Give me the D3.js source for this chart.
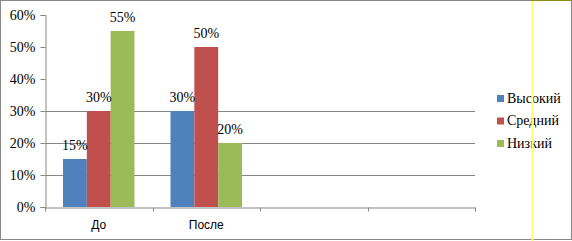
<!DOCTYPE html>
<html>
<head>
<meta charset="utf-8">
<script src="https://cdn.jsdelivr.net/npm/d3@7"></script>
<style>
  body { margin: 0; background: #fff; }
  svg { display: block; }
</style>
</head>
<body>
<div id="chart"></div>
<script>
// data
var categories = ["До", "После", "", ""];
var seriesNames = ["Высокий", "Средний", "Низкий"];
var seriesColors = ["#4f81bd", "#c0504d", "#9bbb59"];
var valuesHigh = [0.15, 0.30];
var valuesMid = [0.30, 0.50];
var valuesLow = [0.55, 0.20];
var yTicks = [0, 0.1, 0.2, 0.3, 0.4, 0.5, 0.6];
var gridTicks = [0.1, 0.2, 0.3];

var w = 572, h = 241;
var plotLeft = 45, plotRight = 475, plotTop = 15, plotBottom = 207;

var svg = d3.select("#chart").append("svg")
  .attr("width", w).attr("height", h);

// outer frame
svg.append("rect")
  .attr("x", 0.5).attr("y", 0.5)
  .attr("width", 571).attr("height", 239)
  .attr("fill", "#fff").attr("stroke", "#888").attr("stroke-width", 1);

var y = d3.scaleLinear().domain([0, 0.6]).range([plotBottom, plotTop]);
var x = d3.scaleBand().domain(d3.range(categories.length)).range([plotLeft, plotRight]);
var xs = d3.scaleBand().domain(d3.range(seriesNames.length))
  .range([18, x.bandwidth() - 18]);

// gridlines
svg.selectAll(".grid").data(gridTicks).enter().append("line")
  .attr("x1", plotLeft).attr("x2", plotRight)
  .attr("y1", function(d) { return Math.round(y(d)) + 0.5; })
  .attr("y2", function(d) { return Math.round(y(d)) + 0.5; })
  .attr("stroke", "#868686");

var allSeries = [valuesHigh, valuesMid, valuesLow];
var bars = [];
allSeries.forEach(function(vals, s) {
  vals.forEach(function(v, c) { bars.push({s: s, c: c, v: v}); });
});

svg.selectAll(".bar").data(bars).enter().append("rect")
  .attr("x", function(d) { return x(d.c) + xs(d.s); })
  .attr("width", xs.bandwidth())
  .attr("y", function(d) { return y(d.v); })
  .attr("height", function(d) { return plotBottom - y(d.v); })
  .attr("fill", function(d) { return seriesColors[d.s]; });

svg.selectAll(".lbl").data(bars).enter().append("text")
  .attr("x", function(d) { return x(d.c) + xs(d.s) + xs.bandwidth() / 2; })
  .attr("y", function(d) { return y(d.v) - 9; })
  .attr("text-anchor", "middle")
  .style("font-family", "Liberation Serif, serif")
  .style("font-size", "14px")
  .text(function(d) { return Math.round(d.v * 100) + "%"; });

// y axis
var yAxis = d3.axisLeft(y).tickValues(yTicks).tickFormat(d3.format(".0%"))
  .tickSize(5).tickPadding(5);
var gy = svg.append("g").attr("transform", "translate(" + (plotLeft + 0.5) + ",0)").call(yAxis);
gy.select(".domain").attr("stroke", "#868686");
gy.selectAll(".tick line").attr("stroke", "#868686");
gy.selectAll("text")
  .style("font-family", "Liberation Serif, serif")
  .style("font-size", "14px").attr("fill", "#000");

// x axis
var xAxis = d3.axisBottom(x).tickFormat(function(d) { return categories[d]; })
  .tickSize(0).tickPadding(13);
var gx = svg.append("g").attr("transform", "translate(0," + (plotBottom + 0.5) + ")").call(xAxis);
gx.select(".domain").attr("stroke", "#868686");
gx.selectAll("text")
  .style("font-family", "Liberation Sans, sans-serif")
  .style("font-size", "12px").attr("fill", "#000");
gx.selectAll(".sep").data(d3.range(categories.length + 1)).enter().append("line")
  .attr("x1", function(d) { return Math.round(plotLeft + d * x.step()) + 0.5; })
  .attr("x2", function(d) { return Math.round(plotLeft + d * x.step()) + 0.5; })
  .attr("y1", 0).attr("y2", 4)
  .attr("stroke", "#868686");

// legend
var legend = svg.append("g").attr("transform", "translate(497,95)");
var items = legend.selectAll("g").data(seriesNames).enter().append("g")
  .attr("transform", function(d, i) { return "translate(0," + (i * 22.5) + ")"; });
items.append("rect").attr("width", 7).attr("height", 7)
  .attr("fill", function(d, i) { return seriesColors[i]; });
items.append("text").attr("x", 10).attr("y", 7.5)
  .style("font-family", "Liberation Serif, serif")
  .style("font-size", "14px")
  .text(function(d) { return d; });

// yellow marker line and olive top edge
svg.append("line").attr("x1", 532.5).attr("x2", 532.5).attr("y1", 0).attr("y2", 241)
  .attr("stroke", "#ffff70").attr("stroke-width", 2);
svg.append("line").attr("x1", 531).attr("x2", 571).attr("y1", 0.5).attr("y2", 0.5)
  .attr("stroke", "#8c8c10");
</script>
</body>
</html>
